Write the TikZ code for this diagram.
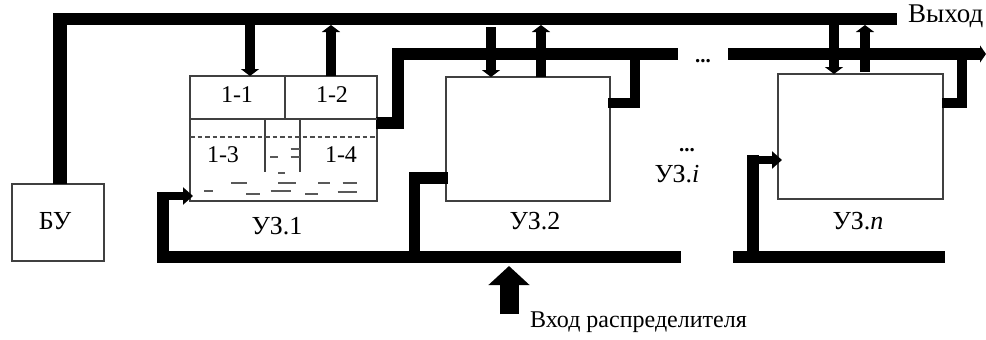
\documentclass[tikz,border=0pt]{standalone}
\usepackage{fontspec}
\setmainfont{Liberation Serif}
\usetikzlibrary{arrows.meta}
\tikzset{
  boxn/.style={draw=black!75,line width=1.2pt,fill=white,inner sep=0pt,outer sep=0pt},
  lbl/.style={inner sep=0pt,font=\fontsize{24}{28}\selectfont},
  ulbl/.style={inner sep=0pt,font=\fontsize{26}{30}\selectfont},
  bus/.style={line width=11.5pt,line cap=butt,line join=miter,black},
  thinbus/.style={line width=9.5pt,line cap=butt,black,-{Triangle[width=18pt,length=7pt]}},
  inbus/.style={line width=8.5pt,line join=miter,black,-{Triangle[width=17pt,length=10pt]}},
  part/.style={draw=black!75,line width=1.2pt},
  dashl/.style={draw=black!70,line width=1.2pt},
  speck/.style={draw=black!65,line width=1.7pt}
}
\begin{document}
\begin{tikzpicture}[x=1pt,y=-1pt]
\useasboundingbox (0,0) rectangle (986,340);
% boxes
\node[boxn,minimum width=92pt,minimum height=77pt] (bu) at (58,222.5) {};
\node[boxn,minimum width=187pt,minimum height=125pt] (u1) at (283.5,138.5) {};
\node[boxn,minimum width=164pt,minimum height=124pt] (u2) at (528,139) {};
\node[boxn,minimum width=165pt,minimum height=125pt] (un) at (860.5,136.5) {};
% bus anchor points
\coordinate (tl) at (53,19);
\coordinate (tr) at (897,19);
\coordinate (butop) at (60,19);
\coordinate (a1) at (250,19);
\coordinate (b1) at (331,25);
\coordinate (a2) at (491,27);
\coordinate (b2) at (541,25);
\coordinate (a3) at (834,19);
\coordinate (b3) at (865,25);
\coordinate (m1) at (398,123);
\coordinate (m2) at (398,54);
\coordinate (m3) at (678,54);
\coordinate (m4) at (728,54);
\coordinate (m5) at (986,54);
\coordinate (s2) at (635,54);
\coordinate (s2b) at (635,103);
\coordinate (sn) at (962,54);
\coordinate (snb) at (962,103);
\coordinate (d1) at (157,257);
\coordinate (d2) at (681,257);
\coordinate (d3) at (733,257);
\coordinate (d4) at (945,257);
\coordinate (i1) at (163,196);
\coordinate (i2) at (414.5,178);
\coordinate (i2b) at (414.5,257);
\coordinate (in) at (753,160);
\coordinate (inb) at (753,257);
\coordinate (inA) at (509,314);
\coordinate (inB) at (509,266);
% buses
\draw[bus] (tl) -- (tr);
\draw[line width=14.5pt,black] (butop) -- (butop |- bu.north);
\draw[bus] ([xshift=-1pt]u1.east |- m1) -- (m1) -- (m2) -- (m3);
\draw[bus] (m4) -- (980,54);
\draw[bus,line width=9pt,-{Triangle[width=17pt,length=6pt]}] (975,54) -- (m5);
\draw[bus,line width=10.5pt] (s2) -- (s2b) -- ([xshift=-2pt]u2.east |- s2b);
\draw[bus,line width=10.5pt] (sn) -- (snb) -- ([xshift=-1pt]un.east |- snb);
\draw[bus] (d1) -- (d2);
\draw[bus] (d3) -- (d4);
\draw[bus] (i2b) -- (i2) -- ([xshift=2pt]u2.west |- i2);
\draw[inbus] ([xshift=-6pt]i1) -- ([xshift=3pt]u1.west |- i1);
\draw[bus] (i1 |- d1) -- ([yshift=4.25pt]i1 |- i1) ;
\draw[bus,line width=12pt] (i1 |- d1) -- ([yshift=4.25pt]i1);
\draw[inbus] ([xshift=-6pt]in) -- ([xshift=4pt]un.west |- in);
\draw[bus,line width=12pt] (inb) -- ([yshift=5pt]in);
% vertical links
\draw[thinbus] (a1) -- (a1 |- u1.north);
\draw[thinbus] (b1 |- u1.north) -- (b1);
\draw[thinbus] (a2) -- (a2 |- u2.north);
\draw[thinbus] (b2 |- u2.north) -- (b2);
\draw[thinbus] (a3) -- (a3 |- un.north);
\draw[thinbus] ([yshift=2pt]b3 |- un.north) -- (b3);
\draw[line width=19pt,black,-{Triangle[width=40pt,length=19pt]}] (inA) -- (inB);
% inner partitions of the first unit
\draw[part] (u1.west |- 0,119) -- (u1.east |- 0,119);
\draw[part] (285,76) -- (285,119);
\draw[part] (265,119) -- (265,172);
\draw[part] (300,119) -- (300,172);
\draw[dashl,dash pattern=on 4.5pt off 3pt] (u1.west |- 0,137) -- (u1.east |- 0,137);
\foreach \a/\b/\c in {360/385/472,422/450/447,422/450/472,385/405/518,243/290/549,385/437/549,505/540/549,578/620/549,163/190/574,288/330/582,362/422/574,465/505/582,563/620/577}
  \draw[speck] ({150+\a/3},{\c/3}) -- ({150+\b/3},{\c/3});
% labels
\node[lbl] (t11) at (237,95) {1-1};
\node[lbl] (t12) at (332,95) {1-2};
\node[lbl] (t13) at (223,155) {1-3};
\node[lbl] (t14) at (341,155) {1-4};
\node[ulbl] (tbu) at (55,221) {БУ};
\node[ulbl] (tu1) at (277,226) {УЗ.1};
\node[ulbl] (tu2) at (535,221) {УЗ.2};
\node[ulbl] (tui) at (677,174) {УЗ.\textit{i}};
\node[ulbl] (tun) at (858,221) {УЗ.\textit{n}};
\node[ulbl,anchor=west,font=\fontsize{27}{30}\selectfont] (tout) at (908,16) {Выход};
\node[lbl,anchor=west] (tin) at (530,322) {Вход распределителя};
\node[lbl,anchor=base,font=\fontsize{21}{24}\bfseries] (dots1) at (703,62) {...};
\node[lbl,anchor=base,font=\fontsize{21}{24}\bfseries] (dots2) at (687,151) {...};
\end{tikzpicture}
\end{document}
